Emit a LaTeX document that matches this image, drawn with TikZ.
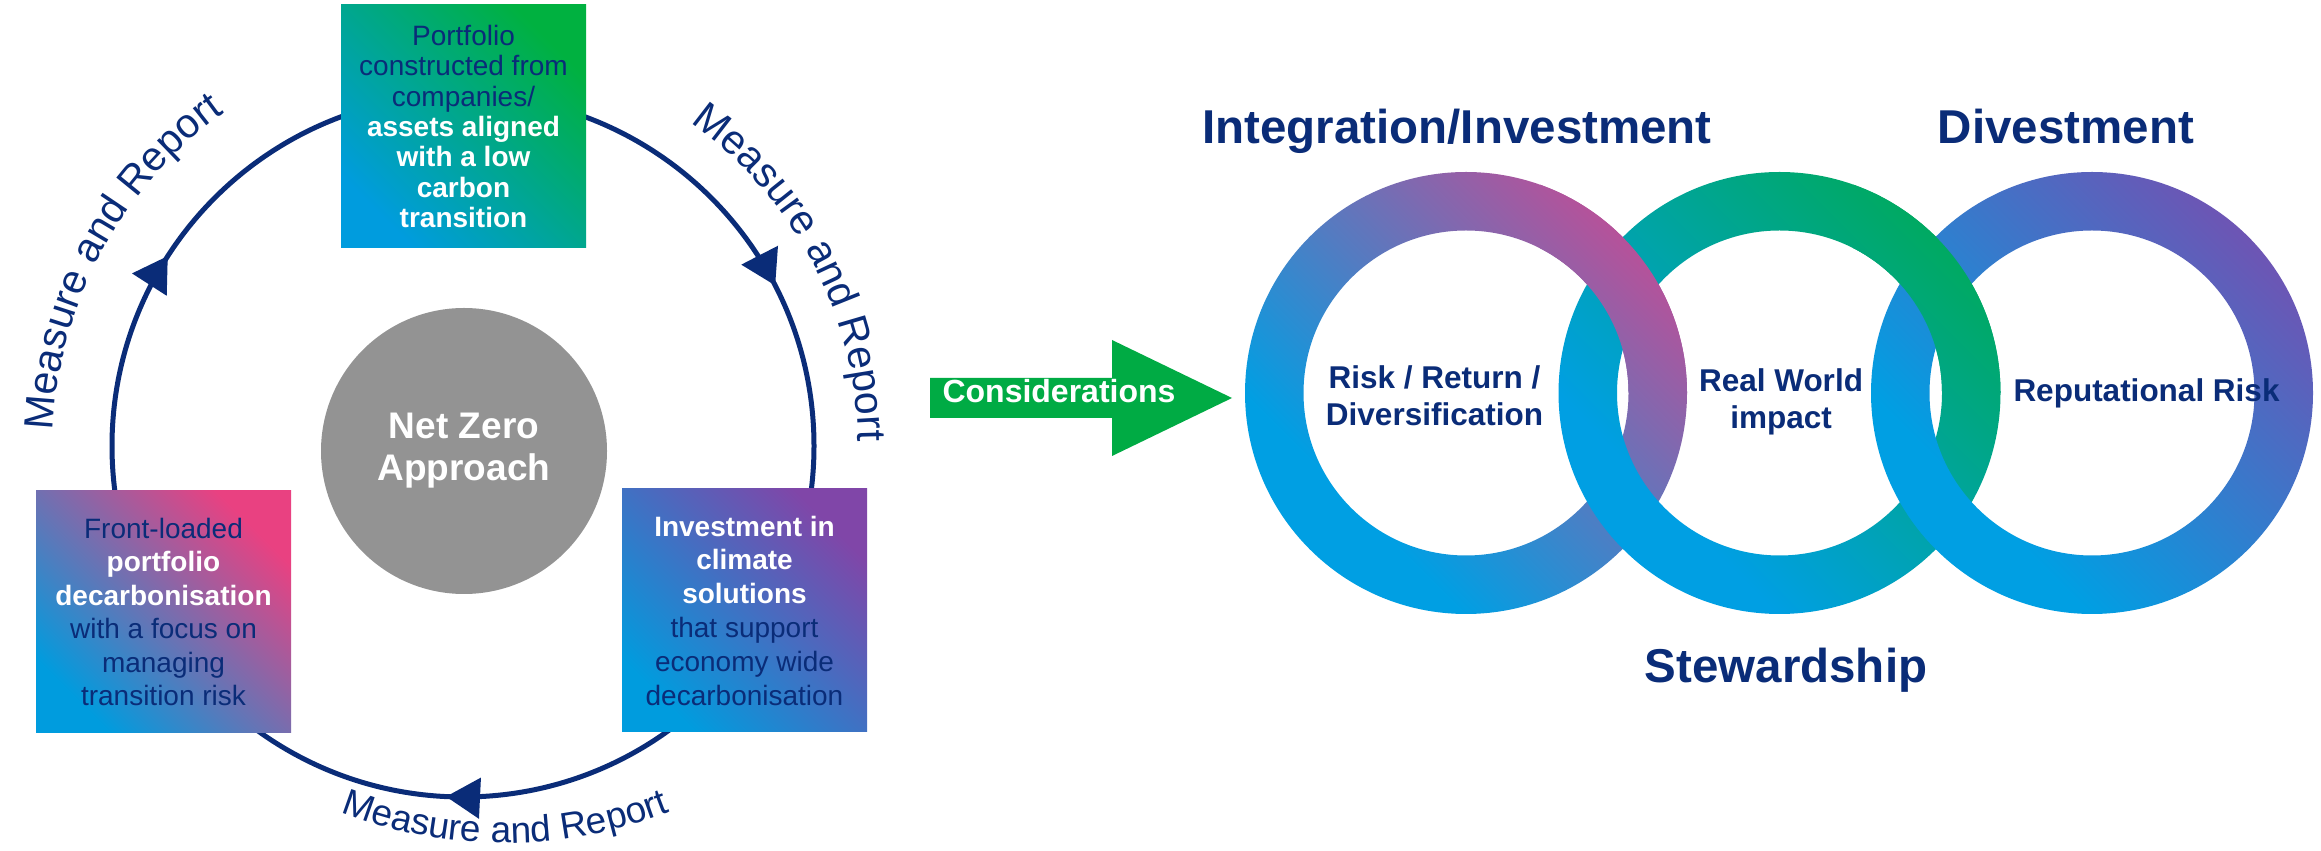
\documentclass[tikz,border=0pt]{standalone}
\usepackage{fontspec}
\setmainfont{Liberation Sans}
\usetikzlibrary{arrows.meta,decorations.text,decorations.markings}

\definecolor{navy}{HTML}{0A2C78}
\definecolor{cblue}{HTML}{009FE3}
\definecolor{ringpinkc}{HTML}{B5529A}
\definecolor{ringgreenc}{HTML}{00A962}
\definecolor{ringpurplec}{HTML}{6D55B4}
\definecolor{cardblue}{HTML}{009CDE}
\definecolor{cardgreen}{HTML}{00B140}
\definecolor{cardpink}{HTML}{E94181}
\definecolor{cardpurple}{HTML}{8046A8}
\definecolor{arrowgreen}{HTML}{00AB44}
\definecolor{hubgray}{HTML}{939393}

% ring shadings: blue over the lower-left part, blending into the accent colour
\pgfdeclareverticalshading{ringshadepink}{100bp}{color(0bp)=(cblue); color(32bp)=(cblue); color(75bp)=(ringpinkc); color(100bp)=(ringpinkc)}
\pgfdeclareverticalshading{ringshadegreen}{100bp}{color(0bp)=(cblue); color(32bp)=(cblue); color(75bp)=(ringgreenc); color(100bp)=(ringgreenc)}
\pgfdeclareverticalshading{ringshadepurple}{100bp}{color(0bp)=(cblue); color(32bp)=(cblue); color(75bp)=(ringpurplec); color(100bp)=(ringpurplec)}
% card shadings: blue corner to accent corner
\pgfdeclareverticalshading{cardshadegreen}{100bp}{color(0bp)=(cardblue); color(25bp)=(cardblue); color(75bp)=(cardgreen); color(100bp)=(cardgreen)}
\pgfdeclareverticalshading{cardshadepink}{100bp}{color(0bp)=(cardblue); color(25bp)=(cardblue); color(75bp)=(cardpink); color(100bp)=(cardpink)}
\pgfdeclareverticalshading{cardshadepurple}{100bp}{color(0bp)=(cardblue); color(25bp)=(cardblue); color(75bp)=(cardpurple); color(100bp)=(cardpurple)}

\newcommand\lnreg[1]{\textcolor{navy}{#1}}
\newcommand\lnbold[1]{\textcolor{white}{\bfseries #1}}

\begin{document}
\begin{tikzpicture}[x=1pt,y=1pt,
  cycline/.style={draw=navy, line width=5pt},
  card/.style={shade, shading angle=-45, minimum width=245pt, minimum height=243pt, inner sep=0pt, align=center},
  hub/.style={circle, fill=hubgray, minimum size=286pt, inner sep=0pt, align=center, text=white,
    font=\bfseries\fontsize{37}{42}\selectfont},
  ring/.style={even odd rule, shading angle=-45},
  title/.style={anchor=base, text=navy, font=\bfseries\fontsize{47.5}{57}\selectfont, inner sep=0pt},
  ringlabel/.style={text=navy, font=\bfseries\fontsize{31.5}{37.4}\selectfont, align=center, inner sep=0pt},
  cyclelabel/.style={decorate, decoration={text along path, text align=center, text color=navy,
    text={|\fontsize{#1}{#1}\selectfont|Measure and Report}}},
  tri/.tip={Triangle[length=34pt,width=40pt]},
]
\fill[white] (0,0) rectangle (2321,851);
\useasboundingbox (0,0) rectangle (2321,851);

% ---------------- cycle ----------------
\coordinate (cc) at (463,405);
\draw[cycline, postaction={decorate, decoration={markings,
    mark=at position 0.1744 with {\arrow{tri}},
    mark=at position 0.5077 with {\arrow{tri}},
    mark=at position 0.8410 with {\arrow{tri}}}}]
  (cc) ++(90:351) arc[start angle=90, end angle=-270, radius=351];

\path[cyclelabel=41] (cc) ++(196.75:410) arc[start angle=196.75, end angle=106.75, radius=410];
\path[cyclelabel=41] (cc) ++(72.75:395) arc[start angle=72.75, end angle=-17.25, radius=395];
\coordinate (lowc) at (505,460);
\path[cyclelabel=37] (lowc) ++(230:452) arc[start angle=230, end angle=310, radius=452];

\node[card, shading=cardshadegreen, font=\fontsize{28}{30.3}\selectfont] (build) at (463.5,724.5)
  {\lnreg{Portfolio}\\ \lnreg{constructed from}\\ \lnreg{companies/}\\ \lnbold{assets aligned}\\
   \lnbold{with a low}\\ \lnbold{carbon}\\ \lnbold{transition}};
\node[card, minimum width=255pt, minimum height=242pt, shading=cardshadepink,
  font=\fontsize{28}{33.4}\selectfont] (front) at (163.5,239)
  {\lnreg{Front-loaded}\\ \lnbold{portfolio}\\ \lnbold{decarbonisation}\\ \lnreg{with a focus on}\\
   \lnreg{managing}\\ \lnreg{transition risk}};
\node[card, shading=cardshadepurple, font=\fontsize{28}{33.8}\selectfont] (invest) at (744.5,240.5)
  {\lnbold{Investment in}\\ \lnbold{climate}\\ \lnbold{solutions}\\ \lnreg{that support}\\
   \lnreg{economy wide}\\ \lnreg{decarbonisation}};

\node[hub] (hub) at (464,400) {Net Zero\\Approach};

% ---------------- considerations arrow ----------------
\fill[arrowgreen] (930,433) -- (1112,433) -- (1112,395) -- (1232,453) -- (1112,511)
  -- (1112,473) -- (930,473) -- cycle;
\node[anchor=base, text=white, font=\bfseries\fontsize{32}{38}\selectfont, inner sep=0pt]
  (consider) at (1059,448) {Considerations};

% ---------------- interlocking rings ----------------
\coordinate (r1) at (1466,458);
\coordinate (r2) at (1779.5,458);
\coordinate (r3) at (2092,458);
\shade[ring, shading=ringshadepink] (r1) circle[radius=221] (r1) circle[radius=162.5];
\shade[ring, shading=ringshadegreen] (r2) circle[radius=221] (r2) circle[radius=162.5];
\shade[ring, shading=ringshadepurple] (r3) circle[radius=221] (r3) circle[radius=162.5];
% upper crossings: the left ring passes over the right one
\begin{scope}
  \clip (1540,458) rectangle (1720,700);
  \shade[ring, shading=ringshadepink] (r1) circle[radius=221] (r1) circle[radius=162.5];
\end{scope}
\begin{scope}
  \clip (1853,458) rectangle (2033,700);
  \shade[ring, shading=ringshadegreen] (r2) circle[radius=221] (r2) circle[radius=162.5];
\end{scope}

\node[ringlabel] (rrd) at (1434.5,455.5) {Risk / Return /\\Diversification};
\node[ringlabel] (rwi) at (1781,449.2) {Real World\\impact};
\node[ringlabel, anchor=base] (rep) at (2146.5,449.3) {Reputational Risk};

\node[title] (tint) at (1457,707) {Integration/Investment};
\node[title] (tdiv) at (2066,707) {Divestment};
\node[title] (tste) at (1786,168) {Stewardship};
\end{tikzpicture}
\end{document}
